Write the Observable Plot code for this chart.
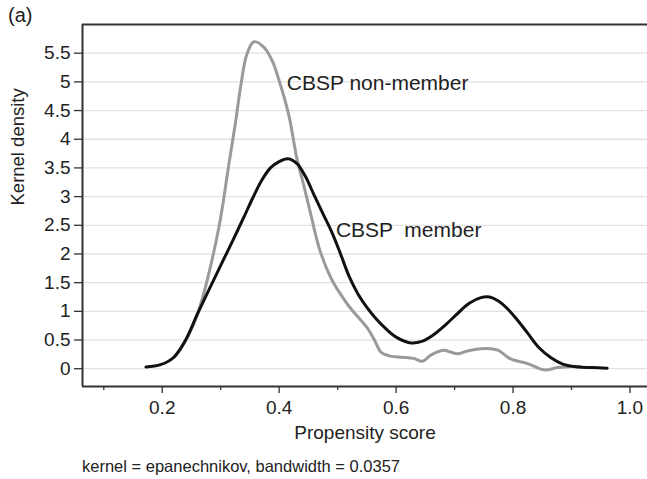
<!DOCTYPE html>
<html>
<head>
<meta charset="utf-8">
<script src="https://cdn.jsdelivr.net/npm/d3@7"></script>
<script src="https://cdn.jsdelivr.net/npm/@observablehq/plot@0.6"></script>
<style>
  html, body { margin: 0; padding: 0; background: #fff; }
  #wrap { position: relative; width: 647px; height: 479px; font-family: "Liberation Sans", Arial, sans-serif; color: #222; }
  #panel { position: absolute; left: 8px; top: 4px; font-size: 20px; }
  #cap { position: absolute; left: 82px; top: 457px; font-size: 16.5px; white-space: pre; }
  #chart { position: absolute; left: 0; top: 0; }
  svg text { white-space: pre; }
</style>
</head>
<body>
<div id="wrap">
  <div id="chart"></div>
  <div id="panel">(a)</div>
  <div id="cap">kernel = epanechnikov, bandwidth = 0.0357</div>
</div>
<script>
// CBSP member (black)
const memberX = [0.172,0.197,0.220,0.240,0.260,0.280,0.300,0.320,0.340,0.355,0.370,0.385,0.400,0.415,0.430,0.445,0.460,0.475,0.490,0.505,0.520,0.535,0.550,0.565,0.580,0.600,0.625,0.645,0.665,0.685,0.705,0.725,0.745,0.760,0.775,0.790,0.805,0.825,0.845,0.865,0.885,0.910,0.935,0.961];
const memberY = [0.03,0.07,0.20,0.50,0.95,1.38,1.80,2.22,2.65,2.98,3.28,3.50,3.61,3.66,3.58,3.35,3.02,2.70,2.38,2.00,1.60,1.30,1.07,0.88,0.72,0.55,0.45,0.48,0.60,0.77,0.96,1.14,1.24,1.25,1.18,1.05,0.88,0.62,0.36,0.19,0.08,0.03,0.02,0.01];
// CBSP non-member (grey)
const nonMemberX = [0.220,0.237,0.254,0.271,0.285,0.297,0.305,0.314,0.325,0.334,0.345,0.357,0.374,0.388,0.400,0.417,0.430,0.442,0.455,0.470,0.490,0.505,0.520,0.535,0.550,0.562,0.575,0.590,0.610,0.630,0.645,0.660,0.682,0.693,0.705,0.722,0.745,0.762,0.775,0.796,0.825,0.853,0.876,0.899,0.915];
const nonMemberY = [0.20,0.44,0.78,1.31,1.89,2.47,2.95,3.57,4.27,4.91,5.49,5.70,5.60,5.37,5.02,4.40,3.68,3.20,2.65,2.05,1.55,1.30,1.08,0.90,0.72,0.52,0.28,0.22,0.20,0.18,0.13,0.24,0.32,0.29,0.26,0.31,0.35,0.35,0.32,0.17,0.09,-0.02,0.02,0.04,0.04];

const labelText = ["CBSP non-member", "CBSP  member"];
const labelX = [0.413, 0.497];
const labelY = [4.97, 2.41];

const xMajor = [0.2, 0.4, 0.6, 0.8, 1.0];
const xMinor = [0.1, 0.3, 0.5, 0.7, 0.9];
const yTicks = [0, 0.5, 1, 1.5, 2, 2.5, 3, 3.5, 4, 4.5, 5, 5.5];
const xDomain = [0.0636, 1.03];
const yDomain = [-0.31, 6.0];

const member = memberX.map((x, i) => ({x, y: memberY[i]}));
const nonMember = nonMemberX.map((x, i) => ({x, y: nonMemberY[i]}));
const labels = labelText.map((t, i) => ({t, x: labelX[i], y: labelY[i]}));

const font = "Liberation Sans, Arial, sans-serif";
const axisColor = "#333";

const chart = Plot.plot({
  width: 647,
  height: 455,
  marginLeft: 82,
  marginRight: 0,
  marginTop: 24,
  marginBottom: 69,
  style: {fontFamily: font, fontSize: "19px", color: "#222", background: "white"},
  x: {domain: xDomain},
  y: {domain: yDomain},
  marks: [
    Plot.gridY(yTicks, {stroke: "#e2e2e2", strokeOpacity: 1, strokeWidth: 1.3}),
    Plot.axisY(yTicks, {tickSize: 8, tickPadding: 4, tickFormat: d => String(d), stroke: axisColor, strokeWidth: 1.3, fill: "#222", fontSize: 19, label: null}),
    Plot.axisX(xMajor, {tickSize: 7, tickPadding: 7, tickFormat: d => d.toFixed(1), stroke: axisColor, strokeWidth: 1.3, fill: "#222", fontSize: 19, label: null}),
    Plot.axisX(xMinor, {tickSize: 4, tickFormat: () => "", stroke: axisColor, strokeWidth: 1.3, label: null}),
    Plot.ruleX([xDomain[0]], {stroke: axisColor, strokeWidth: 2}),
    Plot.ruleY([yDomain[0]], {stroke: axisColor, strokeWidth: 2}),
    Plot.ruleY([yDomain[1]], {stroke: axisColor, strokeWidth: 2}),
    Plot.line(nonMember, {x: "x", y: "y", stroke: "#9a9a9a", strokeWidth: 3, curve: "catmull-rom"}),
    Plot.line(member, {x: "x", y: "y", stroke: "#111", strokeWidth: 3, curve: "catmull-rom"}),
    Plot.text(labels, {x: "x", y: "y", text: "t", textAnchor: "start", fontSize: 21, fill: "#222"}),
    Plot.text(["Kernel density"], {frameAnchor: "left", dx: -64, rotate: -90, fontSize: 18.5, fill: "#222"}),
    Plot.text(["Propensity score"], {frameAnchor: "bottom", dy: 52, fontSize: 19, fill: "#222"})
  ]
});
document.getElementById("chart").appendChild(chart);
</script>
</body>
</html>
